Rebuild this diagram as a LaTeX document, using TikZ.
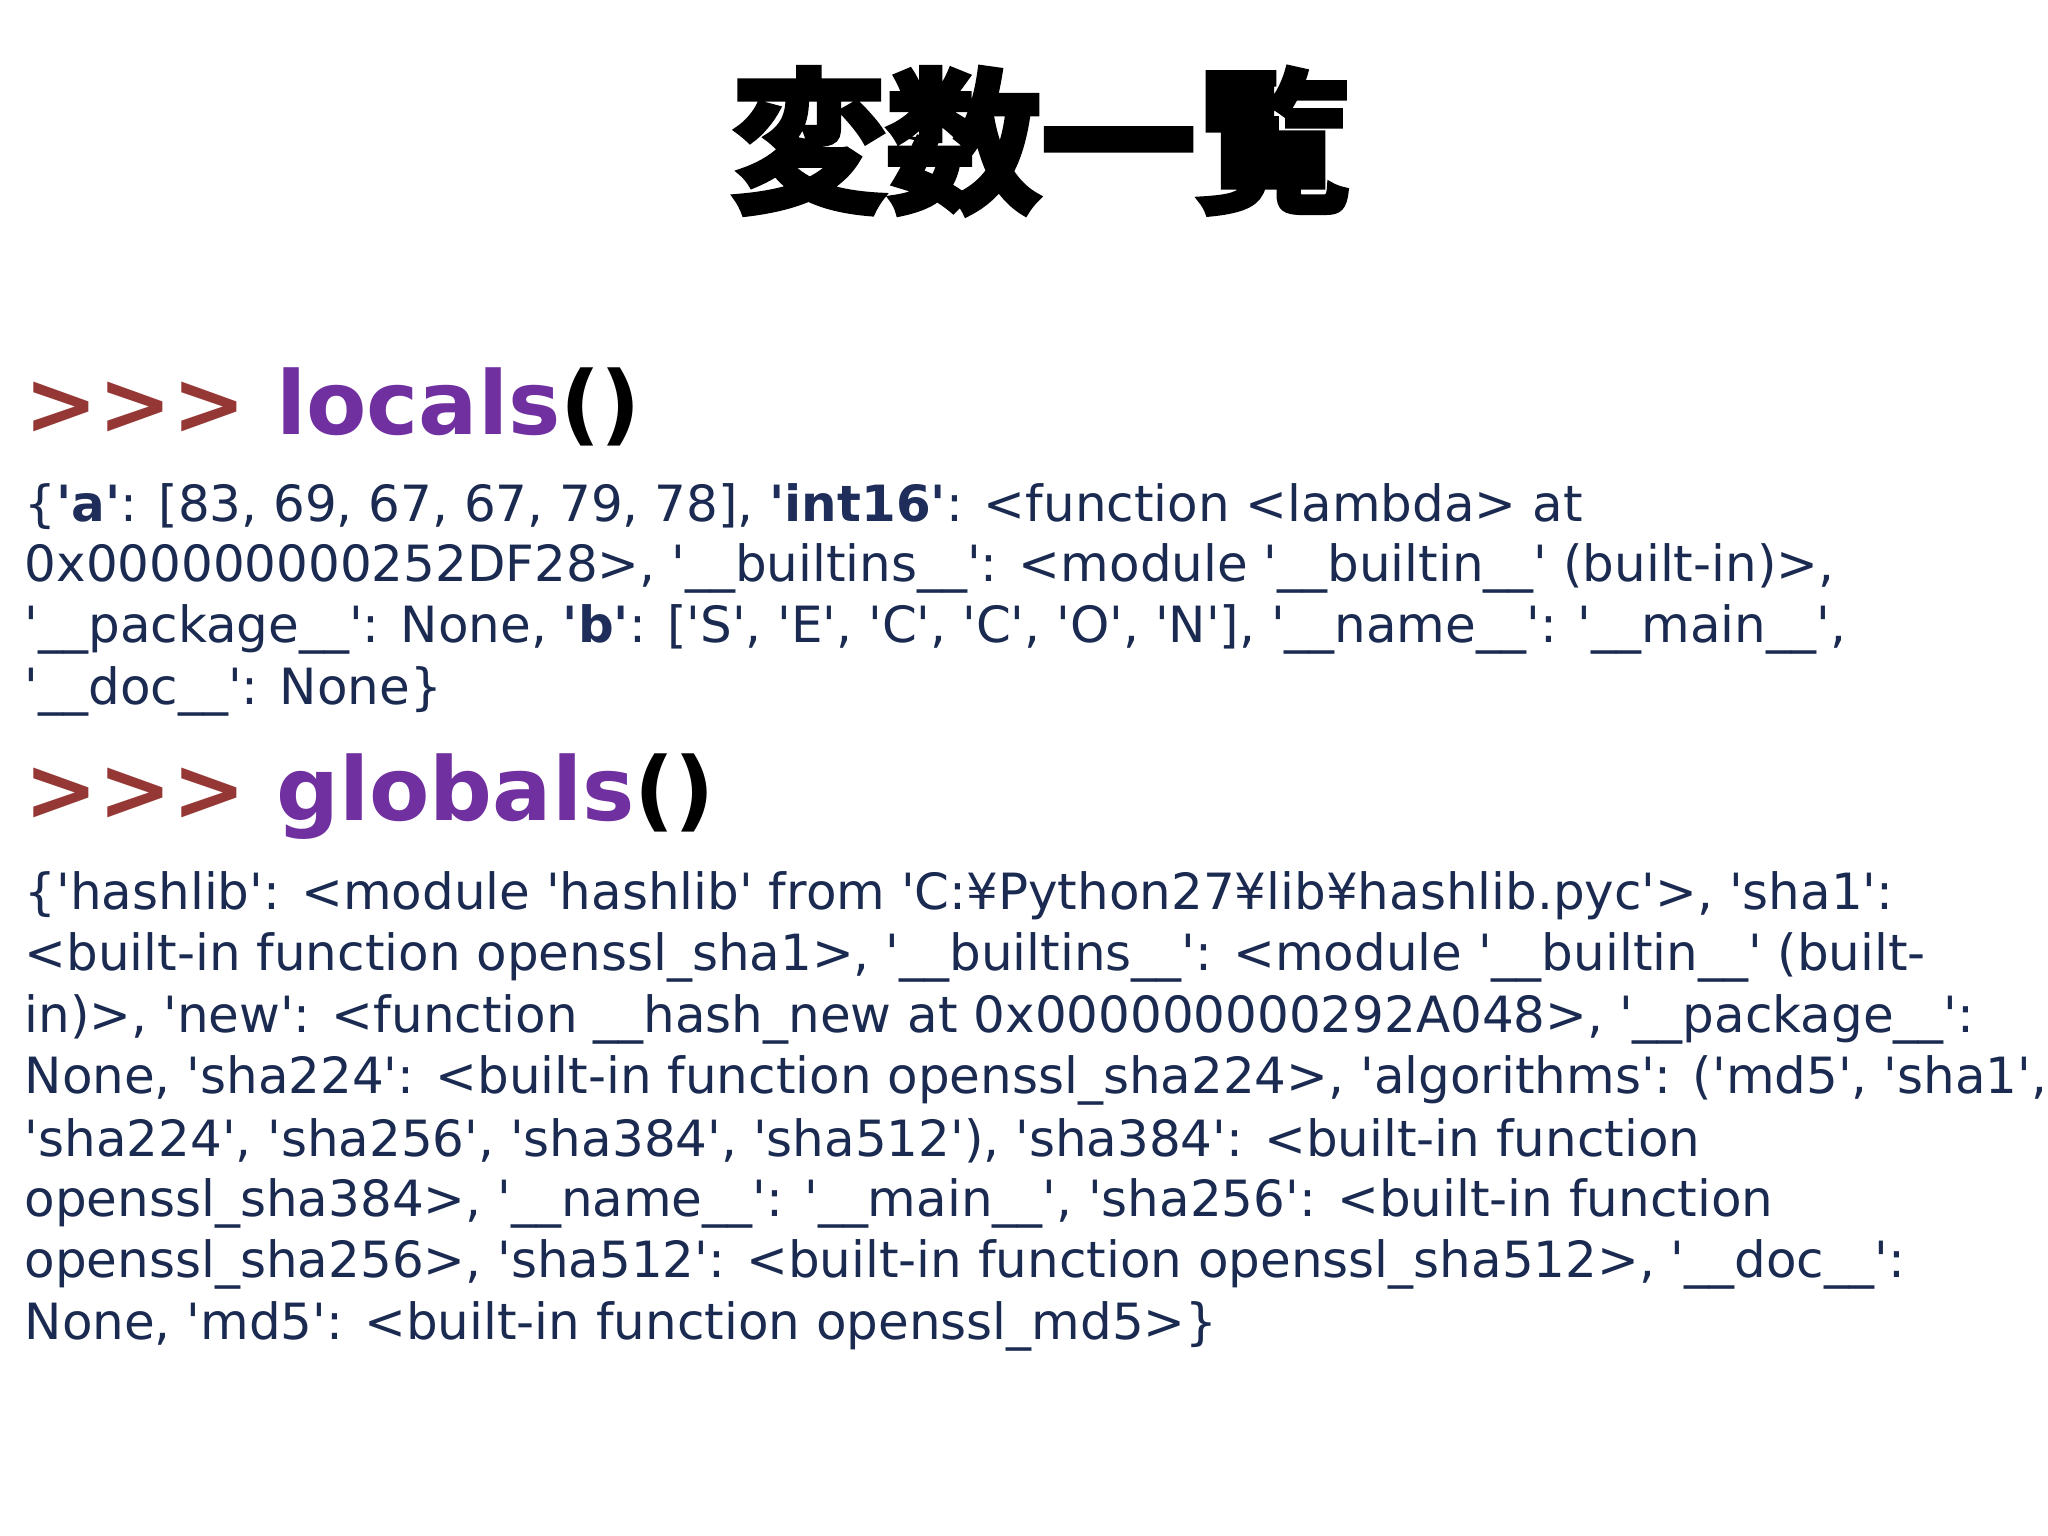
\documentclass[tikz,border=0pt]{standalone}
\usepackage{fontspec}
\setmainfont{DejaVu Sans}[Ligatures=TeXOff]
\newfontfamily\cjk[FakeBold=4]{Noto Sans CJK JP Bold}
\definecolor{arrred}{HTML}{953735}
\definecolor{purp}{HTML}{7030A0}
\definecolor{dblue}{HTML}{1F2D5A}
\definecolor{txt}{HTML}{1A2A50}
\tikzset{line/.style={anchor=west,inner sep=0pt,font=\fontsize{14.2}{16}\selectfont,text=txt},
head/.style={anchor=west,inner sep=0pt,font=\fontsize{25}{28}\selectfont\bfseries}}
\newcommand{\kb}[1]{\textbf{\color{dblue}#1}}
\newcommand{\us}{\_\_}
\begin{document}
\begin{tikzpicture}[x=0.01cm,y=-0.01cm]
\useasboundingbox (0,0) rectangle (2048,1536);
\node[inner sep=0pt,font=\cjk\fontsize{44}{48}\selectfont] (title) at (1041,141) {変数一覧};
\node[head] (h1) at (24,407) {{\color{arrred}>>>} {\color{purp}locals}{\color{black}()}};
\node[line] (l1) at (24,507) {\{\kb{'a'}: [83, 69, 67, 67, 79, 78], \kb{'int16'}: <function <lambda> at};
\node[line] (l2) at (24,568) {0x000000000252DF28>, '\us builtins\us': <module '\us builtin\us' (built-in)>,};
\node[line] (l3) at (24,629) {'\us package\us': None, \kb{'b'}: ['S', 'E', 'C', 'C', 'O', 'N'], '\us name\us': '\us main\us',};
\node[line] (l4) at (24,691) {'\us doc\us': None\}};
\node[head] (h2) at (24,797) {{\color{arrred}>>>} {\color{purp}globals}{\color{black}()}};
\node[line] (g1) at (24,896) {\{'hashlib': <module 'hashlib' from 'C:¥Python27¥lib¥hashlib.pyc'>, 'sha1':};
\node[line] (g2) at (24,957) {<built-in function openssl\_sha1>, '\us builtins\us': <module '\us builtin\us' (built-};
\node[line] (g3) at (24,1019) {in)>, 'new': <function \us hash\_new at 0x000000000292A048>, '\us package\us':};
\node[line] (g4) at (24,1080) {None, 'sha224': <built-in function openssl\_sha224>, 'algorithms': ('md5', 'sha1',};
\node[line] (g5) at (24,1141) {'sha224', 'sha256', 'sha384', 'sha512'), 'sha384': <built-in function};
\node[line] (g6) at (24,1203) {openssl\_sha384>, '\us name\us': '\us main\us', 'sha256': <built-in function};
\node[line] (g7) at (24,1264) {openssl\_sha256>, 'sha512': <built-in function openssl\_sha512>, '\us doc\us':};
\node[line] (g8) at (24,1326) {None, 'md5': <built-in function openssl\_md5>\}};
\end{tikzpicture}
\end{document}
